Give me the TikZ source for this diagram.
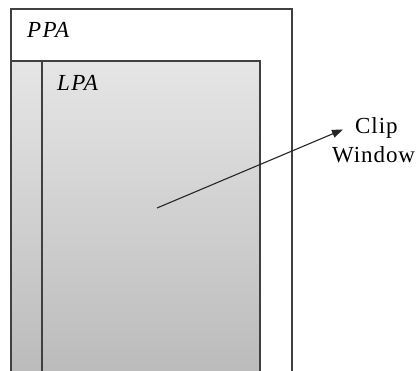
\documentclass[tikz,border=0pt]{standalone}
\usepackage{fontspec}
\setmainfont{Liberation Serif}
\usetikzlibrary{arrows.meta}
\begin{document}
\begin{tikzpicture}[x=1pt,y=-1pt,
  frame/.style={draw=black!75,line width=1.6pt},
  label/.style={inner sep=0pt,font=\fontsize{23}{26}\selectfont\addfontfeatures{LetterSpace=4}},
  area/.style={inner sep=0pt,font=\fontsize{23}{26}\selectfont\itshape\addfontfeatures{LetterSpace=6}},
  pointer/.style={draw=black!85,line width=1.1pt,-{Triangle[length=11pt,width=8pt]}}]
  \useasboundingbox (0,0) rectangle (418,370);
  \begin{scope}
    \clip (0,0) rectangle (418,370);
    % physical page area
    \fill[white] (11,9) rectangle (292,380);
    % logical page area, shaded
    \shade[top color=black!10,bottom color=black!27] (11,61) rectangle (260,380);
    \draw[frame] (11,380) -- (11,9) -- (292,9) -- (292,380);
    \draw[frame] (11,61) -- (260,61) -- (260,380);
    \draw[frame] (42,61) -- (42,380);
  \end{scope}
  \node[area,anchor=base west] (ppa) at (27,37) {PPA};
  \node[area,anchor=base west] (lpa) at (57,90) {LPA};
  \node[label,anchor=base west] (clip) at (355,133) {Clip};
  \node[label,anchor=base west] (win) at (332,162) {Window};
  \coordinate (src) at (157,208);
  \draw[pointer] (src) -- ([xshift=-12pt,yshift=-2pt]clip.west);
\end{tikzpicture}
\end{document}
